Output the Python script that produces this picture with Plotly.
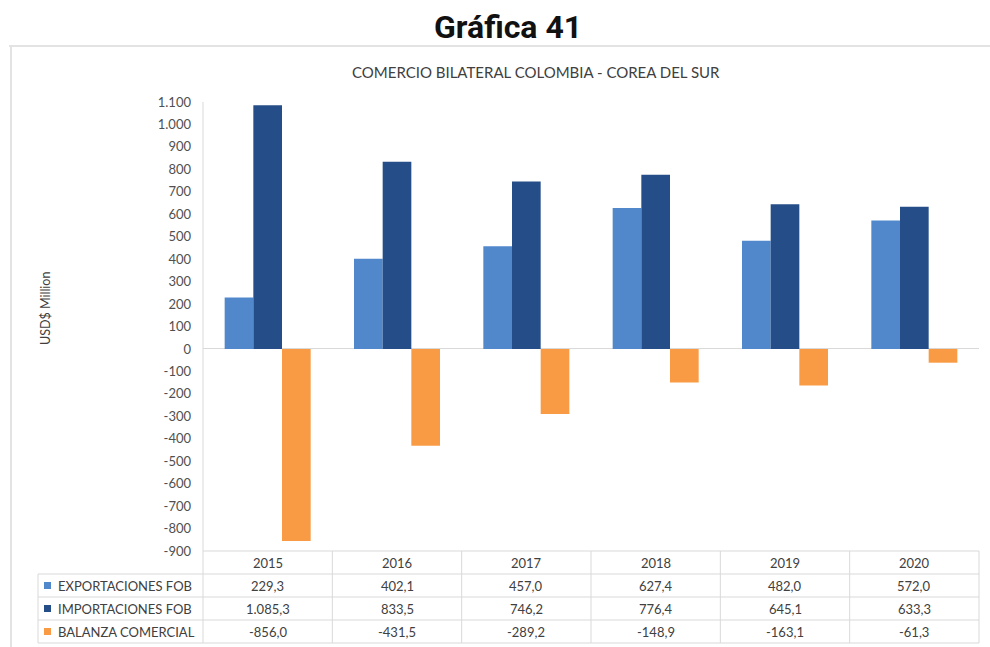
import plotly.graph_objects as go

years = ["2015", "2016", "2017", "2018", "2019", "2020"]
exportaciones = [229.3, 402.1, 457.0, 627.4, 482.0, 572.0]
importaciones = [1085.3, 833.5, 746.2, 776.4, 645.1, 633.3]
balanza = [-856.0, -431.5, -289.2, -148.9, -163.1, -61.3]
series_names = ["EXPORTACIONES FOB", "IMPORTACIONES FOB", "BALANZA COMERCIAL"]
tick_values = list(range(-900, 1101, 100))

colors = ["#5188CC", "#254E88", "#F99B45"]
W, H = 990, 647
L, R, T, B = 203, 979, 102, 551
FONT = "Lato"
GRID = "#d9d9d9"
TXT = "#404040"


def es_int(v):
    return f"{v:,}".replace(",", ".")


def es_dec(v):
    s = f"{v:,.1f}"
    return s.replace(",", "X").replace(".", ",").replace("X", ".")


def px(x):
    return (x - L) / (R - L)


def py(y):
    return (B - y) / (B - T)


fig = go.Figure()
for name, vals, c in zip(series_names, [exportaciones, importaciones, balanza], colors):
    fig.add_trace(go.Bar(x=years, y=vals, name=name, marker=dict(color=c, line=dict(width=0))))

shapes = []
# outer frame
shapes.append(dict(type="line", xref="paper", yref="paper", x0=px(9), x1=px(990), y0=py(46), y1=py(46),
                   line=dict(color="#e3e3e3", width=2)))
shapes.append(dict(type="line", xref="paper", yref="paper", x0=px(11), x1=px(11), y0=py(46), y1=py(647),
                   line=dict(color="#e3e3e3", width=2)))
# table lines
row_y = [551, 574, 597, 620, 643]
for i, yv in enumerate(row_y):
    x0 = L if i == 0 else 38
    shapes.append(dict(type="line", xref="paper", yref="paper", x0=px(x0), x1=px(R), y0=py(yv), y1=py(yv),
                       line=dict(color=GRID, width=1)))
shapes.append(dict(type="line", xref="paper", yref="paper", x0=px(L), x1=px(L), y0=py(T), y1=py(643),
                   line=dict(color=GRID, width=1)))
shapes.append(dict(type="line", xref="paper", yref="paper", x0=px(38), x1=px(38), y0=py(574), y1=py(643),
                   line=dict(color=GRID, width=1)))
for k in range(1, len(years) + 1):
    xv = k / len(years)
    shapes.append(dict(type="line", xref="paper", yref="paper", x0=xv, x1=xv, y0=py(551), y1=py(643),
                       line=dict(color=GRID, width=1)))
# legend keys
for i, c in enumerate(colors):
    cy = 585.5 + i * 23
    shapes.append(dict(type="rect", xref="paper", yref="paper", x0=px(44), x1=px(51), y0=py(cy - 3.5), y1=py(cy + 3.5),
                       fillcolor=c, line=dict(width=0)))

annotations = []
annotations.append(dict(text="<b>Gráfica 41</b>", xref="paper", yref="paper", x=px(508), y=py(27),
                        showarrow=False, font=dict(family="Roboto", size=32, color="#111111"),
                        xanchor="center", yanchor="middle"))
annotations.append(dict(text="COMERCIO BILATERAL COLOMBIA - COREA DEL SUR", xref="paper", yref="paper",
                        x=px(536), y=py(72), showarrow=False, font=dict(family=FONT, size=15, color=TXT),
                        xanchor="center", yanchor="middle"))
annotations.append(dict(text="USD$ Million", xref="paper", yref="paper", x=px(45), y=py(309), textangle=-90,
                        showarrow=False, font=dict(family=FONT, size=12.5, color=TXT),
                        xanchor="center", yanchor="middle"))
for j, yr in enumerate(years):
    annotations.append(dict(text=yr, xref="x", yref="paper", x=j, y=py(563), showarrow=False,
                            font=dict(family=FONT, size=13, color=TXT), xanchor="center", yanchor="middle"))
for i, vals in enumerate([exportaciones, importaciones, balanza]):
    cy = 586 + i * 23
    annotations.append(dict(text=series_names[i], xref="paper", yref="paper", x=px(56), y=py(cy), showarrow=False,
                            font=dict(family=FONT, size=13, color=TXT), xanchor="left", yanchor="middle"))
    for j, v in enumerate(vals):
        annotations.append(dict(text=es_dec(v), xref="x", yref="paper", x=j, y=py(cy), showarrow=False,
                                font=dict(family=FONT, size=13, color=TXT), xanchor="center", yanchor="middle"))

fig.update_layout(
    width=W, height=H,
    margin=dict(l=L, r=W - R, t=T, b=H - B),
    paper_bgcolor="white", plot_bgcolor="white",
    barmode="group", bargap=0.335, bargroupgap=0,
    showlegend=False,
    font=dict(family=FONT, color=TXT),
    shapes=shapes, annotations=annotations,
    xaxis=dict(type="category", range=[-0.5, len(years) - 0.5], autorange=False,
               showticklabels=False, showgrid=False, zeroline=False, showline=False, ticks=""),
    yaxis=dict(range=[-900, 1100], tickvals=tick_values, ticktext=[es_int(v) for v in tick_values],
               showgrid=False, zeroline=True, zerolinecolor=GRID, zerolinewidth=1,
               showline=False, ticks="", ticklabelstandoff=11,
               tickfont=dict(family=FONT, size=13, color="#505050")),
)

fig.write_html("out.html")
